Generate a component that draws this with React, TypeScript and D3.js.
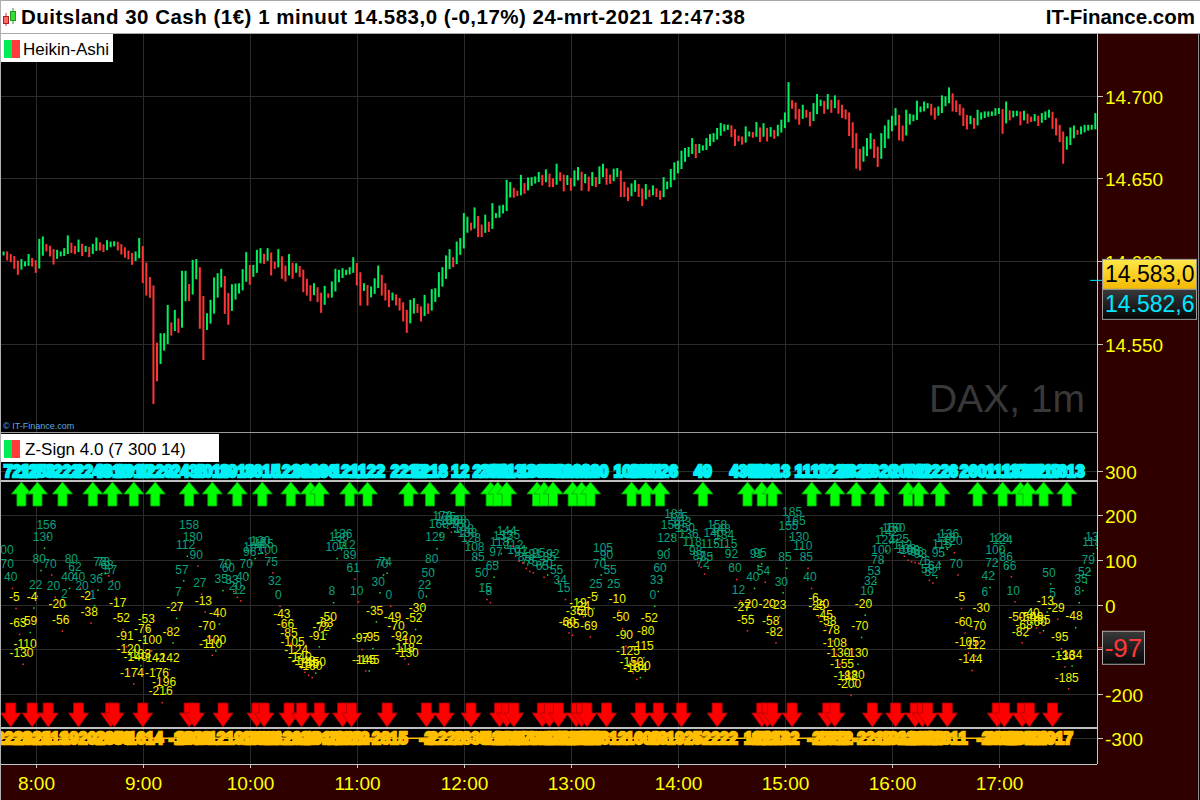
import React, { useEffect, useRef } from 'react';
import * as d3 from 'd3';

// Heikin-Ashi closes, one bar every 2 minutes
const haMorning = [
  14604.7, 14601.7, 14600.6, 14596.6, 14593.0, 14600.1, 14598.7, 14603.1, 14598.0, 14594.2,
  14612.3, 14613.8, 14607.1, 14604.1, 14599.2, 14605.7, 14604.7, 14606.7, 14614.4, 14606.1,
  14605.5, 14611.9, 14604.3, 14608.1, 14603.7, 14609.3, 14613.1, 14607.7, 14606.7, 14611.5,
  14610.7, 14610.9, 14607.7, 14605.3, 14603.3, 14602.3, 14599.0, 14604.7, 14612.8, 14588.0,
  14580.5, 14579.1, 14515.0, 14528.7, 14555.3, 14555.3, 14572.4, 14556.3, 14569.4, 14557.9,
  14593.0, 14593.0, 14577.1, 14599.6, 14600.1, 14560.4, 14541.6, 14567.4, 14575.5, 14589.0,
  14591.6, 14594.2, 14569.4, 14562.8, 14584.9, 14585.3, 14585.5, 14594.0, 14604.3, 14587.0,
  14596.6, 14605.7, 14606.7, 14599.6, 14606.7, 14592.6, 14596.6, 14606.1, 14590.6, 14589.0,
  14603.1, 14590.6, 14597.6, 14591.6, 14582.5, 14580.5, 14577.1, 14585.5, 14576.5, 14570.0,
  14583.9, 14579.1, 14586.6, 14594.2, 14593.6, 14594.6, 14593.6, 14595.2, 14601.2, 14586.6,
  14574.4, 14585.5, 14574.4, 14583.5, 14588.5,
];
const haMidday = [
  14596.2, 14580.5, 14577.5, 14573.5, 14579.9, 14574.5, 14571.4, 14564.8, 14557.9, 14575.5,
  14576.5, 14570.0, 14564.8, 14578.5, 14569.4, 14581.9, 14582.5, 14592.2, 14595.2, 14602.3,
  14606.1, 14597.6, 14610.7, 14612.8, 14627.9, 14625.7, 14619.8, 14631.3, 14615.8, 14615.8,
  14626.9, 14618.8, 14633.9, 14627.9, 14632.5, 14632.9, 14648.0, 14646.6, 14639.6, 14640.6,
  14651.0, 14642.0, 14649.4, 14649.6, 14650.0, 14652.7, 14647.0, 14654.3, 14646.0, 14646.0,
  14657.7, 14649.6, 14643.4, 14650.8, 14643.8, 14653.7, 14655.7, 14643.8, 14651.5, 14643.4,
  14652.7, 14646.0, 14656.1, 14657.7, 14647.4, 14648.0, 14654.7, 14655.1, 14640.0, 14640.0,
  14637.5, 14645.8, 14647.8, 14640.0, 14634.5, 14645.4, 14640.0, 14644.6, 14640.0, 14638.4,
  14649.6, 14647.0, 14654.5, 14658.5, 14659.5, 14665.6, 14667.2, 14667.8, 14673.2, 14663.5,
  14669.6, 14668.8, 14673.2, 14675.6, 14676.2, 14679.3, 14682.3, 14681.5, 14681.3, 14676.2,
  14670.8, 14673.6, 14671.6, 14680.3,
];
const haAfternoon = [
  14677.2, 14675.8, 14682.9, 14673.2, 14682.2, 14673.6, 14679.8, 14675.2, 14681.2, 14684.3,
  14688.7, 14707.0, 14693.3, 14686.9, 14683.7, 14693.3, 14687.9, 14682.7, 14694.3, 14699.8,
  14696.4, 14690.3, 14699.8, 14690.9, 14699.0, 14690.3, 14687.7, 14686.9, 14676.8, 14669.6,
  14657.1, 14656.0, 14668.1, 14673.2, 14676.2, 14663.5, 14658.1, 14676.2, 14680.8, 14684.3,
  14686.7, 14691.3, 14674.2, 14673.6, 14690.3, 14687.9, 14687.3, 14695.8, 14692.3, 14695.3,
  14694.3, 14689.3, 14686.7, 14692.3, 14699.0, 14698.4, 14703.8, 14691.7, 14691.3, 14689.3,
  14682.9, 14680.8, 14686.7, 14681.2, 14690.3, 14688.7, 14689.3, 14689.3, 14689.3, 14691.3,
  14691.3, 14678.2, 14695.3, 14686.3, 14689.7, 14689.7, 14683.3, 14689.7, 14684.3, 14685.3,
  14687.7, 14682.9, 14688.3, 14689.3, 14690.3, 14681.2, 14677.2, 14673.2, 14660.1, 14674.2,
  14679.6, 14680.8, 14677.6, 14680.2, 14681.2, 14681.2, 14681.2, 14688.3,
];

// Z-Sign values, one every 2 minutes
const zMorning = [
  100, 70, 40, -5, -63, -130, -110, -59, -4, 22,
  80, 130, 156, 70, 20, -20, -56, 2, 40, 80,
  62, 40, 20, -2, -38, 1, 36, 73, 73, 68,
  57, 20, -17, -52, -91, -120, -174, -140, -133, -76,
  -53, -100, -142, -176, -216, -196, -142, -82, -27, 7,
  57, 112, 158, 130, 90, 27, -13, -70, -110, -100,
  -40, 35, 70, 60, 33, 20, 12, 40, 70, 96,
  107, 118, 120, 115, 100, 75, 32, 0, -43, -66,
  -85, -105, -124, -140, -148, -155, -160, -150, -91, -72,
  -63, -50, 8, 107, 130, 136, 112, 89, 61, 10,
  -97, -145, -145, -95, -35,
];
const zMidday = [
  30, 70, 74, 0, -49, -70, -92, -118, -130, -102,
  -52, -30, 0, 22, 50, 80, 129, 160, 178, 175,
  166, 168, 168, 160, 148, 138, 128, 108, 85, 50,
  15, 8, 65, 97, 118, 132, 144, 135, 112, 101,
  97, 85, 78, 75, 91, 95, 65, 70, 85, 92,
  55, 34, 15, -60, -65, -36, -19, -24, -40, -69,
  -5, 25, 70, 105, 90, 55, 25, -10, -50, -90,
  -125, -150, -164, -160, -115, -80, -52, 0, 33, 60,
  90, 128, 158, 181, 175, 163, 150, 136, 118, 98,
  87, 72, 85, 115, 140, 158, 148, 134, 115, 92,
  60, 12, -27, -55,
];
const zAfternoon = [
  -20, 40, 91, 95, 54, -20, -58, -82, -23, 30,
  85, 155, 185, 165, 130, 110, 85, 40, -6, -25,
  -20, -45, -58, -78, -108, -130, -155, -182, -200, -180,
  -130, -70, -20, 10, 32, 53, 78, 100, 124, 142,
  150, 150, 125, 112, 103, 100, 98, 96, 93, 76,
  58, 52, 64, 95, 115, 128, 136, 120, 70, -5,
  -60, -105, -144, -112, -70, -30, 6, 42, 72, 100,
  128, 124, 86, 66, 10, -50, -82, -68, -50, -40,
  -49, -60, -55, -13, 50, 5, -29, -95, -136, -185,
  -134, -48, 8, 35, 52, 79, 118, 130,
];

const buySignals = [
  '7:52', '8:01', '8:15', '8:32', '8:43', '8:55', '9:07', '9:26', '9:39', '9:53',
  '10:07', '10:23', '10:34', '10:39', '10:56', '11:06', '11:29', '11:41', '11:58', '12:15',
  '12:19', '12:24', '12:41', '12:45', '12:50', '13:01', '13:06', '13:11', '13:34', '13:42',
  '13:50', '14:14', '14:39', '14:47', '14:53', '15:15', '15:28', '15:40', '15:53', '16:09',
  '16:15', '16:27', '16:48', '17:02', '17:12', '17:16', '17:25', '17:38',
];
const buyLabels = [
  '7212', '1253', '3222', '2248', '4810', '1910', '1229', '2436', '1019', '2910',
  '3615', '1216', '3319', '1936', '1211', '1122', '2212', '1218', '12', '2326',
  '2651', '5113', '1336', '3630', '830', '1608', '2628', '2820', '1026', '1911',
  '3026', '49', '4348', '4813', '1913', '1112', '1223', '2326', '2620', '2007',
  '712', '1226', '2601', '1113', '1320', '1702', '2719', '1613',
];
const sellSignals = [
  '7:46', '7:58', '8:07', '8:24', '8:42', '8:44', '9:00', '9:26', '9:29', '9:45',
  '10:04', '10:08', '10:22', '10:29', '10:39', '10:52', '10:57', '11:17', '11:39', '11:49',
  '12:04', '12:20', '12:24', '12:28', '12:44', '12:48', '12:53', '13:03', '13:06', '13:09',
  '13:20', '13:39', '13:49', '14:02', '14:22', '14:47', '14:50', '14:53', '15:04', '15:24',
  '15:28', '15:49', '16:02', '16:13', '16:17', '16:20', '16:31', '16:59', '17:03', '17:13',
  '17:17', '17:30',
];
const sellLabels = [
  '-2222', '2822', '-2413', '1920', '-2630', '2356', '-1614', '-1606', '2023', '-1219',
  '-1922', '2826', '-1212', '2029', '-1910', '-2220', '1922', '-2815', '-2', '-2228',
  '2835', '-1212', '-1211', '2617', '-1813', '2227', '-1718', '1217', '-2519', '2417',
  '-1612', '-1606', '13', '-1925', '-2222', '1813', '-1717', '2212', '-2', '-2222',
  '1912', '-2212', '-1912', '2225', '-2312', '2223', '-1811', '-2422', '2018', '-2612',
  '2414', '-1917',
];

const priceTicks = [14550, 14600, 14650, 14700];
const zTicks = [300, 200, 100, 0, -100, -200, -300];
const hourLabels = ['8:00', '9:00', '10:00', '11:00', '12:00', '13:00', '14:00', '15:00', '16:00', '17:00'];

const FONT = 'Arial, "Liberation Sans", sans-serif';
const toMin = (s: string) => {
  const [h, m] = s.split(':').map(Number);
  return h * 60 + m;
};

const App: React.FC = () => {
  const ref = useRef<SVGSVGElement>(null);

  useEffect(() => {
    if (!ref.current) return;
    const svg = d3.select(ref.current);
    svg.selectAll('*').remove();

    const plotL = 1, plotR = 1097;
    const priceTop = 34, priceBot = 432;
    const zTop = 433, zBot = 764;

    const x = d3.scaleLinear().domain([480, 1020]).range([35.7, 999]);
    const yP = d3.scaleLinear().domain([14550, 14700]).range([344, 95.7]);
    const yZ = d3.scaleLinear().domain([-300, 300]).range([738.3, 470.7]);

    const defs = svg.append('defs');
    defs.append('clipPath').attr('id', 'clipP').append('rect')
      .attr('x', plotL).attr('y', priceTop).attr('width', plotR - plotL).attr('height', priceBot - priceTop);
    defs.append('clipPath').attr('id', 'clipZ').append('rect')
      .attr('x', plotL).attr('y', zTop).attr('width', plotR - plotL).attr('height', zBot - zTop);
    const gy = defs.append('linearGradient').attr('id', 'gYel').attr('x1', 0).attr('y1', 0).attr('x2', 0).attr('y2', 1);
    gy.append('stop').attr('offset', '0%').attr('stop-color', '#ffe84a');
    gy.append('stop').attr('offset', '100%').attr('stop-color', '#f2b800');
    const gd = defs.append('linearGradient').attr('id', 'gDark').attr('x1', 0).attr('y1', 0).attr('x2', 0).attr('y2', 1);
    gd.append('stop').attr('offset', '0%').attr('stop-color', '#3a3a3a');
    gd.append('stop').attr('offset', '100%').attr('stop-color', '#050505');

    // backgrounds
    svg.append('rect').attr('width', 1200).attr('height', 800).attr('fill', '#2e0000');
    svg.append('rect').attr('x', 0).attr('y', priceTop).attr('width', plotR).attr('height', zBot - priceTop).attr('fill', '#000');

    // header
    svg.append('rect').attr('x', 0).attr('y', 0).attr('width', 1200).attr('height', 33).attr('fill', '#fff');
    svg.append('line').attr('x1', 0).attr('x2', 1200).attr('y1', 0.5).attr('y2', 0.5).attr('stroke', '#a8a8a8');
    svg.append('line').attr('x1', 0).attr('x2', 1200).attr('y1', 33.5).attr('y2', 33.5).attr('stroke', '#a8a8a8');
    // little candle icon
    svg.append('line').attr('x1', 6).attr('x2', 6).attr('y1', 13).attr('y2', 26).attr('stroke', '#c33');
    svg.append('rect').attr('x', 3.5).attr('y', 16.5).attr('width', 5).attr('height', 7).attr('fill', '#f66').attr('stroke', '#a22');
    svg.append('line').attr('x1', 13).attr('x2', 13).attr('y1', 8).attr('y2', 24).attr('stroke', '#393');
    svg.append('rect').attr('x', 10.5).attr('y', 11.5).attr('width', 5).attr('height', 9).attr('fill', '#3d3').attr('stroke', '#292');
    svg.append('text').attr('x', 21).attr('y', 24).attr('font-family', FONT).attr('font-weight', 'bold')
      .attr('font-size', 20.5).attr('fill', '#000').attr('textLength', 724).attr('lengthAdjust', 'spacing')
      .text('Duitsland 30 Cash (1€) 1 minuut 14.583,0 (-0,17%) 24-mrt-2021 12:47:38');
    svg.append('text').attr('x', 1195).attr('y', 24).attr('text-anchor', 'end').attr('font-family', FONT)
      .attr('font-weight', 'bold').attr('font-size', 20.5).attr('fill', '#000').text('IT-Finance.com');

    // grid
    const grid = svg.append('g').attr('stroke', '#2b2b2b').attr('stroke-width', 1);
    hourLabels.forEach(h => {
      const xx = Math.round(x(toMin(h))) + 0.5;
      grid.append('line').attr('x1', xx).attr('x2', xx).attr('y1', priceTop).attr('y2', priceBot);
      grid.append('line').attr('x1', xx).attr('x2', xx).attr('y1', zTop).attr('y2', zBot);
    });
    priceTicks.forEach(p => {
      const yy = Math.round(yP(p)) + 0.5;
      grid.append('line').attr('x1', plotL).attr('x2', plotR).attr('y1', yy).attr('y2', yy);
    });
    zTicks.forEach(v => {
      const yy = Math.round(yZ(v)) + 0.5;
      grid.append('line').attr('x1', plotL).attr('x2', plotR).attr('y1', yy).attr('y2', yy);
    });

    // Heikin-Ashi bars
    const series = (vals: number[], start: string) => vals.map((v, i) => ({ t: toMin(start) + 2 * i, v }));
    const closes = [...series(haMorning, '7:42'), ...series(haMidday, '11:12'), ...series(haAfternoon, '14:40')];
    let prevO = closes[0].v, prevC = closes[0].v;
    const ha = closes.map(b => {
      const o = (prevO + prevC) / 2;
      prevO = o; prevC = b.v;
      return { t: b.t, o, c: b.v };
    });
    const pg = svg.append('g').attr('clip-path', 'url(#clipP)');
    pg.selectAll('rect.bar').data(ha).join('rect')
      .attr('x', d => x(d.t) - 1)
      .attr('width', 2)
      .attr('y', d => yP(Math.max(d.o, d.c)) - 2)
      .attr('height', d => Math.abs(yP(d.o) - yP(d.c)) + 4)
      .attr('fill', d => (d.c >= d.o ? '#00f060' : '#ff3535'));

    // watermark + copyright
    svg.append('text').attr('x', 1085).attr('y', 412).attr('text-anchor', 'end').attr('font-family', FONT)
      .attr('font-size', 39).attr('fill', '#383838').text('DAX, 1m');
    svg.append('text').attr('x', 3).attr('y', 429).attr('font-family', FONT).attr('font-size', 9)
      .attr('fill', '#5aa8e0').text('© IT-Finance.com');

    // Heikin-Ashi legend
    svg.append('rect').attr('x', 1).attr('y', 34).attr('width', 112).attr('height', 28).attr('fill', '#fff');
    svg.append('rect').attr('x', 4).attr('y', 40).attr('width', 8).attr('height', 18).attr('fill', '#00ee55');
    svg.append('rect').attr('x', 12).attr('y', 40).attr('width', 8).attr('height', 18).attr('fill', '#ff3b3b');
    svg.append('text').attr('x', 23).attr('y', 55).attr('font-family', FONT).attr('font-size', 17).attr('fill', '#000').text('Heikin-Ashi');

    // panel separator
    svg.append('line').attr('x1', 0).attr('x2', plotR).attr('y1', 432.5).attr('y2', 432.5).attr('stroke', '#9a9a9a');

    // ===== Z-Sign panel =====
    const zg = svg.append('g').attr('clip-path', 'url(#clipZ)');
    const zs = [...series(zMorning, '7:42'), ...series(zMidday, '11:12'), ...series(zAfternoon, '14:40')];

    // white boundary lines
    [277, -277].forEach(v => {
      zg.append('line').attr('x1', plotL).attr('x2', plotR).attr('y1', yZ(v)).attr('y2', yZ(v))
        .attr('stroke', '#fff').attr('stroke-width', 1.5);
    });
    // orange base line at -300
    zg.append('line').attr('x1', 2).attr('x2', x(toMin('17:34'))).attr('y1', yZ(-300)).attr('y2', yZ(-300))
      .attr('stroke', '#ffc000').attr('stroke-width', 1.5);

    // dots
    zg.selectAll('rect.dot').data(zs).join('rect')
      .attr('x', d => x(d.t) + 1).attr('y', d => yZ(d.v) + 1).attr('width', 1.5).attr('height', 1.5)
      .attr('fill', (d, i) => (i > 0 && d.v >= zs[i - 1].v ? '#22dd44' : '#ff3030'));
    // value labels
    zg.selectAll('text.zv').data(zs).join('text')
      .attr('x', d => x(d.t)).attr('y', d => yZ(d.v) - 5.5).attr('text-anchor', 'middle')
      .attr('font-family', FONT).attr('font-size', 12)
      .attr('fill', d => (d.v >= 0 ? '#0aa07c' : '#f2f200'))
      .text(d => String(d.v));

    // signal labels and arrows
    const buys = buySignals.map((s, i) => ({ t: toMin(s), label: buyLabels[i] }));
    const sells = sellSignals.map((s, i) => ({ t: toMin(s), label: sellLabels[i] }));
    zg.selectAll('text.buy').data(buys).join('text')
      .attr('x', d => x(d.t)).attr('y', yZ(300) + 6).attr('text-anchor', 'middle')
      .attr('font-family', FONT).attr('font-weight', 'bold').attr('font-size', 16)
      .attr('fill', '#00ffff').attr('stroke', '#00f0f4').attr('stroke-width', 2.4)
      .text(d => d.label);
    zg.selectAll('text.sell').data(sells).join('text')
      .attr('x', d => x(d.t)).attr('y', yZ(-300) + 6).attr('text-anchor', 'middle')
      .attr('font-family', FONT).attr('font-weight', 'bold').attr('font-size', 16)
      .attr('fill', '#ffc400').attr('stroke', '#ffbe00').attr('stroke-width', 2.4)
      .text(d => d.label);

    const upTop = yZ(277) + 1;
    zg.selectAll('path.up').data(buys).join('path')
      .attr('d', d => {
        const c = x(d.t);
        return `M${c},${upTop} L${c + 10},${upTop + 12} L${c + 4.5},${upTop + 12} L${c + 4.5},${upTop + 24} ` +
          `L${c - 4.5},${upTop + 24} L${c - 4.5},${upTop + 12} L${c - 10},${upTop + 12} Z`;
      })
      .attr('fill', '#00ff00').attr('stroke', '#00a800').attr('stroke-width', 0.8);
    const dnTip = yZ(-277) - 1;
    zg.selectAll('path.dn').data(sells).join('path')
      .attr('d', d => {
        const c = x(d.t);
        return `M${c},${dnTip} L${c + 10},${dnTip - 14} L${c + 5},${dnTip - 14} L${c + 5},${dnTip - 24} ` +
          `L${c - 5},${dnTip - 24} L${c - 5},${dnTip - 14} L${c - 10},${dnTip - 14} Z`;
      })
      .attr('fill', '#ff0000').attr('stroke', '#b00000').attr('stroke-width', 0.8);

    // Z-Sign legend
    svg.append('rect').attr('x', 1).attr('y', 434).attr('width', 218).attr('height', 28).attr('fill', '#fff');
    svg.append('rect').attr('x', 4).attr('y', 440).attr('width', 8).attr('height', 18).attr('fill', '#00ee55');
    svg.append('rect').attr('x', 12).attr('y', 440).attr('width', 8).attr('height', 18).attr('fill', '#ff3b3b');
    svg.append('text').attr('x', 25).attr('y', 455).attr('font-family', FONT).attr('font-size', 17).attr('fill', '#000')
      .text('Z-Sign 4.0 (7 300 14)');

    // ===== axes =====
    const axisC = '#c8c8c8';
    svg.append('line').attr('x1', plotR + 0.5).attr('x2', plotR + 0.5).attr('y1', priceTop).attr('y2', zBot)
      .attr('stroke', axisC);
    svg.append('line').attr('x1', 0).attr('x2', plotR).attr('y1', zBot + 0.5).attr('y2', zBot + 0.5).attr('stroke', axisC);
    svg.append('line').attr('x1', 0.5).attr('x2', 0.5).attr('y1', 0).attr('y2', 800).attr('stroke', '#b0b0b0');
    svg.append('line').attr('x1', 1198.5).attr('x2', 1198.5).attr('y1', 33).attr('y2', 800).attr('stroke', '#8a8a8a');

    priceTicks.forEach(p => {
      const yy = Math.round(yP(p)) + 0.5;
      svg.append('line').attr('x1', plotR).attr('x2', plotR + 6).attr('y1', yy).attr('y2', yy).attr('stroke', axisC);
      svg.append('text').attr('x', 1105).attr('y', yy + 7).attr('font-family', FONT).attr('font-size', 19)
        .attr('fill', '#ffff00').text(d3.format(',.0f')(p).replace(',', '.'));
    });
    zTicks.forEach(v => {
      const yy = Math.round(yZ(v)) + 0.5;
      svg.append('line').attr('x1', plotR).attr('x2', plotR + 6).attr('y1', yy).attr('y2', yy).attr('stroke', axisC);
      svg.append('text').attr('x', 1105).attr('y', yy + 7).attr('font-family', FONT).attr('font-size', 19)
        .attr('fill', '#ffff00').text(String(v));
    });
    hourLabels.forEach(h => {
      const xx = Math.round(x(toMin(h))) + 0.5;
      svg.append('line').attr('x1', xx).attr('x2', xx).attr('y1', zBot).attr('y2', zBot + 4).attr('stroke', axisC);
      svg.append('text').attr('x', xx).attr('y', 790).attr('text-anchor', 'middle').attr('font-family', FONT)
        .attr('font-size', 19).attr('fill', '#ffff00').text(h);
    });

    // current price boxes (yellow box sits just above the last price)
    const lastPrice = 14583.0, lastHa = 14582.6;
    const boxY = yP(lastPrice) - 30;
    svg.append('line').attr('x1', 1090).attr('x2', 1103).attr('y1', boxY + 21).attr('y2', boxY + 21)
      .attr('stroke', '#00e5ff');
    svg.append('rect').attr('x', 1102.5).attr('y', boxY).attr('width', 94).attr('height', 30)
      .attr('fill', 'url(#gYel)').attr('stroke', '#999');
    svg.append('text').attr('x', 1105).attr('y', boxY + 23).attr('font-family', FONT).attr('font-size', 23)
      .attr('fill', '#000').text('14.583,0');
    svg.append('rect').attr('x', 1102.5).attr('y', boxY + 30).attr('width', 94).attr('height', 30)
      .attr('fill', 'url(#gDark)').attr('stroke', '#999');
    svg.append('text').attr('x', 1105).attr('y', boxY + 53).attr('font-family', FONT).attr('font-size', 23)
      .attr('fill', '#00e8ff').text(d3.format('.1f')(lastHa).replace(/(\d\d)(\d{3})\./, '$1.$2,'));

    // current Z-Sign box
    const lastZ = -97;
    svg.append('line').attr('x1', plotR).attr('x2', 1103).attr('y1', yZ(lastZ)).attr('y2', yZ(lastZ)).attr('stroke', '#ff4040');
    svg.append('rect').attr('x', 1102.5).attr('y', yZ(lastZ) - 16.5).attr('width', 42).attr('height', 33)
      .attr('fill', 'url(#gDark)').attr('stroke', '#aaa');
    svg.append('text').attr('x', 1123.5).attr('y', yZ(lastZ) + 9).attr('text-anchor', 'middle').attr('font-family', FONT)
      .attr('font-size', 26).attr('fill', '#ff3838').text(String(lastZ));
  }, []);

  return (
    <div style={{ position: 'fixed', left: 0, top: 0 }}>
      <svg ref={ref} width={1200} height={800} style={{ display: 'block' }}></svg>
    </div>
  );
};

export default App;
